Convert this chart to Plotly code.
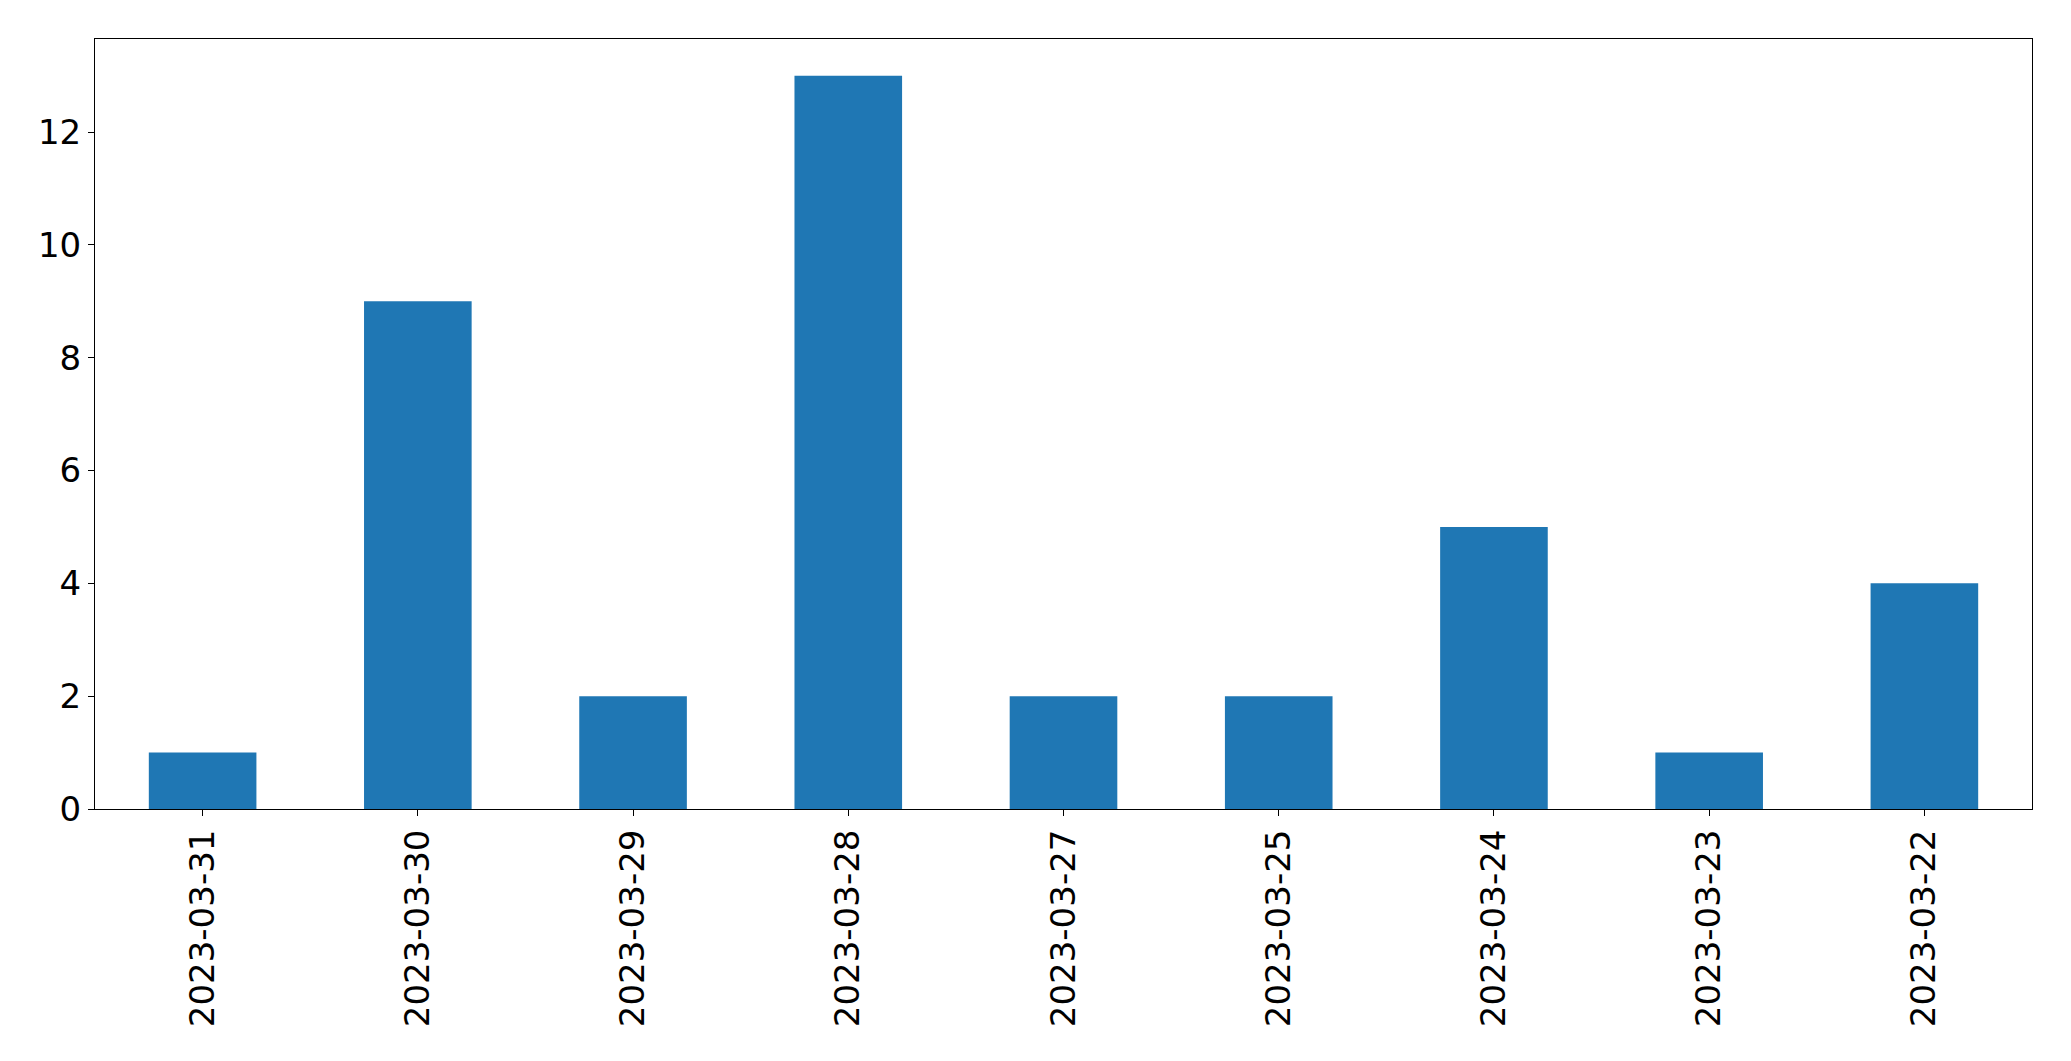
import plotly.graph_objects as go

dates = ["2023-03-31", "2023-03-30", "2023-03-29", "2023-03-28", "2023-03-27",
         "2023-03-25", "2023-03-24", "2023-03-23", "2023-03-22"]
counts = [1, 9, 2, 13, 2, 2, 5, 1, 4]
y_ticks = [0, 2, 4, 6, 8, 10, 12]

fig = go.Figure(go.Bar(x=dates, y=counts, width=0.5, marker_color="#1f77b4",
                       marker_line_width=0))

font = dict(family="DejaVu Sans", size=34, color="black")
fig.update_layout(
    width=2071, height=1061,
    margin=dict(l=95, r=39, t=39, b=252),
    plot_bgcolor="white", paper_bgcolor="white",
    showlegend=False, font=font,
)
fig.update_xaxes(type="category", range=[-0.5, 8.5], tickangle=-90,
                 showline=True, linecolor="black", linewidth=1, mirror=True,
                 ticks="outside", ticklen=6, tickcolor="black", showgrid=False,
                 tickfont=font)
fig.update_yaxes(range=[0, 13.65], tickvals=y_ticks,
                 showline=True, linecolor="black", linewidth=1, mirror=True,
                 ticks="outside", ticklen=6, tickcolor="black", showgrid=False,
                 zeroline=False, tickfont=font)

fig.write_html("out.html", config={"displayModeBar": False},
               post_script="document.body.style.margin='0';document.body.style.overflow='hidden';")
